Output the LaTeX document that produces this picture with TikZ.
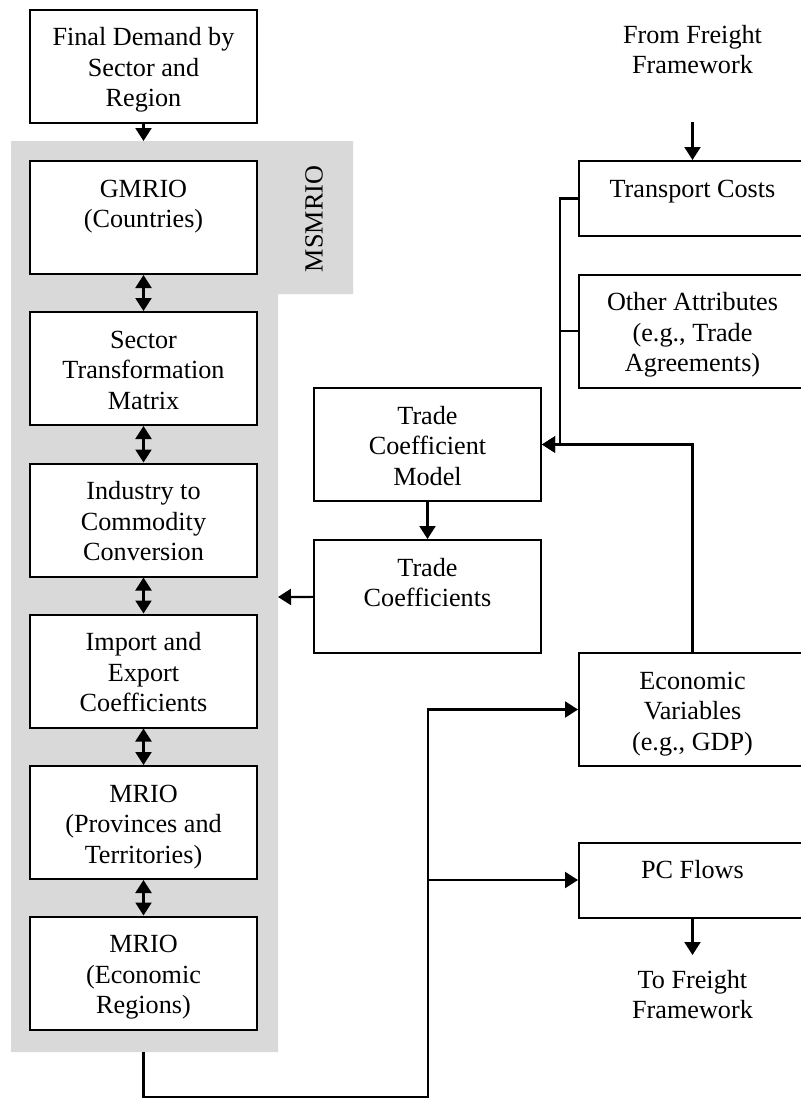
\documentclass[tikz,border=0pt]{standalone}
\usepackage{fontspec}
\setmainfont{Liberation Serif}
\usetikzlibrary{arrows.meta}
\definecolor{panel}{RGB}{217,217,217}
\newcommand{\tallbox}[1]{\parbox[c][56.5pt][t]{113.5pt}{\centering\rule{0pt}{18pt}#1}}
\newcommand{\lowbox}[1]{\parbox[c][37.5pt][t]{113.5pt}{\centering\rule{0pt}{18pt}#1}}
\tikzset{
  box/.style={draw, line width=1pt, fill=white, inner sep=0pt},
  note/.style={inner sep=0pt, anchor=north},
  arr/.style={line width=1.1pt, -{Triangle[length=6.5pt,width=8pt]}},
  dbl/.style={line width=1.1pt, {Triangle[length=6.5pt,width=8pt]}-{Triangle[length=6.5pt,width=8pt]}}
}
\begin{document}
\begin{tikzpicture}[x=0.5pt, y=-0.5pt, font=\fontsize{13.1}{15.25}\selectfont]
      \useasboundingbox (0,0) rectangle (801,1099);
      % grey MSMRIO panel
      \fill[panel] (11,141) -- (353,141) -- (353,294) -- (278,294)
        -- (278,1052) -- (11,1052) -- cycle;
      \node[rotate=90, inner sep=0pt] (msmrio) at (314,219) {MSMRIO};
      \draw
        (143.5,66) node[box] (fd) {\tallbox{Final Demand by\\Sector and\\Region}}
        (143.5,217.5) node[box] (gmrio) {\tallbox{GMRIO\\(Countries)}}
        (143.5,368.5) node[box] (stm) {\tallbox{Sector\\Transformation\\Matrix}}
        (143.5,520) node[box] (icc) {\tallbox{Industry to\\Commodity\\Conversion}}
        (143.5,671) node[box] (iec) {\tallbox{Import and\\Export\\Coefficients}}
        (143.5,822.5) node[box] (mriop) {\tallbox{MRIO\\(Provinces and\\Territories)}}
        (143.5,973) node[box] (mrioe) {\tallbox{MRIO\\(Economic\\Regions)}};
      \draw
        (692.5,7) node[note] (fromff) {\lowbox{From Freight\\Framework}}
        (692.5,198.5) node[box] (tc) {\lowbox{Transport Costs}}
        (692.5,331) node[box] (oa) {\tallbox{Other Attributes\\(e.g., Trade\\Agreements)}}
        (427.5,444.5) node[box] (tcm) {\tallbox{Trade\\Coefficient\\Model}}
        (427.5,596.5) node[box] (tco) {\tallbox{Trade\\Coefficients}}
        (692.5,709.5) node[box] (ev) {\tallbox{Economic\\Variables\\(e.g., GDP)}}
        (692.5,880) node[box] (pcf) {\lowbox{PC Flows}}
        (692.5,952) node[note] (toff) {\lowbox{To Freight\\Framework}};
      \coordinate (msin) at (143.5,141);
      \coordinate (msright) at (278,597);
      \coordinate (msout) at (143.5,1052);
      \coordinate (jn) at (428,1097);
      \coordinate (ffin) at (692.5,122);
      \coordinate (outff) at (692.5,955);
      \begin{scope}[dbl]
        \draw (gmrio) to (stm);
        \draw (stm) to (icc);
        \draw (icc) to (iec);
        \draw (iec) to (mriop);
        \draw (mriop) to (mrioe);
      \end{scope}
      \begin{scope}[arr]
        \draw (fd) to (msin);
        \draw (ffin) to (tc);
        \draw (tc.west) -- ++(-18,0) |- (tcm.east);
        \draw (ev.north) |- (tcm.east);
        \draw (tcm) to (tco);
        \draw (tco) to (msright);
        \draw (msout) |- (jn) |- (ev.west);
        \draw (jn |- pcf.west) -- (pcf.west);
        \draw (pcf) to (outff);
      \end{scope}
      \draw[line width=1.1pt] (oa.west) -- ++(-18,0);
    \end{tikzpicture}
\end{document}
